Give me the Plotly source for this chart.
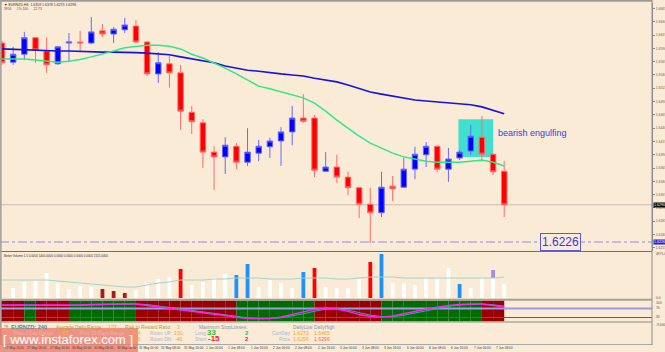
import plotly.graph_objects as go

# ---------------- data ----------------
symbol_title = "\u25bc EURNZD,H4  1.6359 1.6378 1.6273 1.6296"
bar_index = list(range(46))
time_labels = ["27 May 2016", "27 May 08:00", "27 May 16:00", "30 May 00:00", "30 May 08:00",
               "30 May 16:00", "31 May 00:00", "31 May 08:00", "31 May 16:00", "1 Jun 00:00",
               "1 Jun 08:00", "1 Jun 16:00", "2 Jun 00:00", "2 Jun 08:00", "2 Jun 16:00",
               "3 Jun 00:00", "3 Jun 08:00", "3 Jun 16:00", "6 Jun 00:00", "6 Jun 08:00",
               "6 Jun 16:00", "7 Jun 00:00", "7 Jun 08:00"]

opens = [1.6600, 1.6564, 1.6579, 1.6610, 1.6585, 1.6561, 1.6600, 1.6602, 1.6600, 1.6623,
         1.6617, 1.6625, 1.6632, 1.6602, 1.6542, 1.6561, 1.6544, 1.6470, 1.6450, 1.6395,
         1.6386, 1.6406, 1.6376, 1.6393, 1.6405, 1.6416, 1.6433, 1.6459, 1.6459, 1.6359,
         1.6367, 1.6348, 1.6328, 1.6297, 1.6281, 1.6331, 1.6329, 1.6363, 1.6390, 1.6406,
         1.6363, 1.6384, 1.6397, 1.6423, 1.6391, 1.6359]
highs = [1.6604, 1.6593, 1.6621, 1.6611, 1.6611, 1.6594, 1.6619, 1.6623, 1.6649, 1.6636,
         1.6630, 1.6647, 1.6643, 1.6604, 1.6583, 1.6576, 1.6559, 1.6482, 1.6457, 1.6406,
         1.6423, 1.6412, 1.6440, 1.6418, 1.6422, 1.6442, 1.6482, 1.6504, 1.6465, 1.6395,
         1.6390, 1.6358, 1.6329, 1.6328, 1.6358, 1.6350, 1.6384, 1.6405, 1.6414, 1.6408,
         1.6403, 1.6399, 1.6446, 1.6463, 1.6393, 1.6378]
lows = [1.6559, 1.6559, 1.6568, 1.6563, 1.6544, 1.6559, 1.6564, 1.6583, 1.6598, 1.6611,
        1.6600, 1.6619, 1.6600, 1.6538, 1.6525, 1.6516, 1.6437, 1.6429, 1.6365, 1.6324,
        1.6354, 1.6363, 1.6369, 1.6378, 1.6384, 1.6369, 1.6408, 1.6450, 1.6348, 1.6358,
        1.6337, 1.6314, 1.6271, 1.6224, 1.6273, 1.6303, 1.6328, 1.6344, 1.6367, 1.6358,
        1.6339, 1.6380, 1.6390, 1.6378, 1.6352, 1.6273]
closes = [1.6563, 1.6579, 1.6610, 1.6587, 1.6559, 1.6593, 1.6602, 1.6600, 1.6621, 1.6617,
          1.6626, 1.6634, 1.6602, 1.6542, 1.6563, 1.6544, 1.6472, 1.6452, 1.6395, 1.6386,
          1.6408, 1.6376, 1.6395, 1.6406, 1.6416, 1.6433, 1.6459, 1.6453, 1.6361, 1.6367,
          1.6348, 1.6328, 1.6297, 1.6281, 1.6329, 1.6326, 1.6363, 1.6391, 1.6406, 1.6363,
          1.6382, 1.6395, 1.6425, 1.6391, 1.6358, 1.6296]

ma_slow = [1.6589, 1.6588, 1.6587, 1.6587, 1.6586, 1.6585, 1.6585, 1.6584, 1.6583, 1.6583,
           1.6583, 1.6583, 1.6582, 1.6581, 1.6579, 1.6578, 1.6574, 1.6570, 1.6566, 1.6563,
           1.6557, 1.6553, 1.6549, 1.6547, 1.6544, 1.6542, 1.6540, 1.6538, 1.6534, 1.6531,
           1.6527, 1.6521, 1.6514, 1.6508, 1.6504, 1.6500, 1.6497, 1.6493, 1.6491, 1.6489,
           1.6487, 1.6485, 1.6484, 1.6480, 1.6474, 1.6467]
ma_fast = [1.6570, 1.6570, 1.6570, 1.6568, 1.6566, 1.6564, 1.6566, 1.6569, 1.6574, 1.6579,
           1.6585, 1.6591, 1.6594, 1.6596, 1.6596, 1.6594, 1.6589, 1.6579, 1.6572, 1.6563,
           1.6553, 1.6542, 1.6531, 1.6519, 1.6514, 1.6508, 1.6502, 1.6497, 1.6487, 1.6472,
           1.6455, 1.6440, 1.6425, 1.6412, 1.6403, 1.6393, 1.6386, 1.6382, 1.6378, 1.6376,
           1.6376, 1.6376, 1.6378, 1.6380, 1.6376, 1.6369]

support_level = 1.6226
pattern_first, pattern_last = 41, 43
pattern_top, pattern_bottom = 1.6457, 1.6386
pattern_name = "bearish engulfing"

volumes = [0, 1130, 1808, 1921, 2825, 1695, 1017, 1356, 1243, 1017,
           791, 565, 904, 1695, 2147, 2373, 3277, 1469, 1808, 2260,
           2712, 2599, 3842, 1243, 2034, 1695, 1130, 2938, 3390, 1243,
           1130, 1130, 2147, 4068, 4971, 1695, 1695, 1469, 2260, 2260,
           3390, 1582, 1130, 2260, 2260, 1582]
volume_kind = ["n"] * 46
for k in (9, 10, 11):
    volume_kind[k] = "low"
for k in (16, 28, 33):
    volume_kind[k] = "climax"
for k in (21, 22, 27, 34, 41):
    volume_kind[k] = "churn"
pending_volume = {44: 904}
volume_avg = [2034, 2034, 2034, 2034, 2034, 1921, 1808, 1695, 1582, 1469,
              1356, 1243, 1243, 1469, 1695, 1808, 2034, 2034, 2034, 2147,
              2147, 2260, 2260, 2260, 2147, 2147, 2147, 2260, 2260, 2260,
              2147, 2147, 2260, 2373, 2373, 2373, 2260, 2260, 2260, 2260,
              2260, 2260, 2260, 2260, 2260, 2373]

osc_main = [85.6, 85.6, 85.6, 85.6, 83.3, 83.3, 83.3, 85.6, 87.8, 90.0,
            90.0, 90.9, 90.0, 83.3, 76.7, 70.0, 63.3, 56.7, 50.0, 43.3,
            36.7, 30.0, 25.6, 24.2, 25.6, 32.2, 43.3, 54.4, 65.6, 72.2,
            67.8, 56.7, 43.3, 34.4, 31.3, 36.7, 45.6, 56.7, 67.8, 76.7,
            83.3, 87.8, 90.9, 90.0, 83.3, 75.8]
osc_signal = [85.0, 85.3, 85.5, 85.6, 84.8, 84.0, 83.5, 84.2, 85.8, 87.8,
              89.2, 90.2, 90.3, 87.5, 82.0, 75.5, 68.5, 61.5, 54.5, 47.5,
              40.5, 34.0, 28.8, 26.0, 25.2, 28.5, 36.0, 46.5, 57.5, 67.0,
              69.5, 63.0, 51.5, 40.5, 34.0, 33.5, 40.0, 50.0, 61.0, 71.5,
              79.5, 85.0, 89.0, 90.2, 87.0, 80.5]
osc_zone = list("RRRGRRRGGGGGGRRRRRRRRRGGGGGGGRRRRRRGGGGGGGGGRR")
osc_levels = [70, 30]

price_ticks = [round(1.6215 + 0.0025 * k, 4) for k in range(19)]

# ---------------- layout helpers ----------------
W, H = 665, 352
PW = 652
BG = "#FAEBD7"


def pxx(x):
    return x / PW


def pyy(y):
    return 1 - y / H


fig = go.Figure()

# candles
fig.add_trace(go.Candlestick(
    x=bar_index, open=opens, high=highs, low=lows, close=closes,
    increasing=dict(line=dict(color="#6868ff", width=1), fillcolor="#0000ff"),
    decreasing=dict(line=dict(color="#ff6c6c", width=1), fillcolor="#ff0000"),
    whiskerwidth=0, xaxis="x", yaxis="y", hoverinfo="skip", showlegend=False))

fig.add_trace(go.Scatter(x=bar_index, y=ma_slow, mode="lines",
                         line=dict(color="#1414dc", width=1.6), yaxis="y",
                         hoverinfo="skip", showlegend=False))
fig.add_trace(go.Scatter(x=bar_index, y=ma_fast, mode="lines",
                         line=dict(color="#2fe884", width=1.5), yaxis="y",
                         hoverinfo="skip", showlegend=False))

# volume
kind_color = {"n": "#ffffff", "low": "#b01818", "climax": "#ff0000", "churn": "#1e90ff"}
fig.add_trace(go.Bar(x=bar_index, y=volumes,
                     marker=dict(color=[kind_color[k] for k in volume_kind], line=dict(width=0)),
                     width=0.34, yaxis="y2", hoverinfo="skip", showlegend=False))
fig.add_trace(go.Bar(x=list(pending_volume.keys()), y=list(pending_volume.values()),
                     base=[volumes[k] for k in pending_volume],
                     marker=dict(color="#9f8fe0", line=dict(width=0)),
                     width=0.34, yaxis="y2", hoverinfo="skip", showlegend=False))
fig.add_trace(go.Scatter(x=bar_index, y=volume_avg, mode="lines",
                         line=dict(color="#9fd6c6", width=1), yaxis="y2",
                         hoverinfo="skip", showlegend=False))

# oscillator lines
fig.add_trace(go.Scatter(x=bar_index, y=osc_signal, mode="lines",
                         line=dict(color="#3aa6a0", width=1), yaxis="y3",
                         hoverinfo="skip", showlegend=False))
fig.add_trace(go.Scatter(x=bar_index, y=osc_main, mode="lines",
                         line=dict(color="#ff20ff", width=1.3), yaxis="y3",
                         hoverinfo="skip", showlegend=False))

shapes = []
# oscillator zones
for k, z in enumerate(osc_zone):
    shapes.append(dict(type="rect", xref="x", yref="y3 domain", x0=k - 1, x1=k, y0=0, y1=1,
                       fillcolor="#9a0000" if z == "R" else "#006c00", line=dict(width=0),
                       layer="below"))
lvl_col = ["#9c9ce6", "#4a4aff"]
for lv, c, w in zip(osc_levels, lvl_col, [2, 1]):
    shapes.append(dict(type="line", xref="paper", yref="y3", x0=0, x1=1, y0=lv, y1=lv,
                       line=dict(color=c, width=w), layer="below"))

# pattern box
shapes.append(dict(type="rect", xref="x", yref="y", x0=pattern_first - 0.1, x1=pattern_last + 1.0,
                   y0=pattern_bottom, y1=pattern_top, fillcolor="#40e0d0", line=dict(width=0),
                   layer="below"))
# current price line and support level
shapes.append(dict(type="line", xref="paper", yref="y", x0=0, x1=1, y0=closes[-1], y1=closes[-1],
                   line=dict(color="#c6bdb2", width=1), layer="below"))
shapes.append(dict(type="line", xref="paper", yref="y", x0=0, x1=1, y0=support_level, y1=support_level,
                   line=dict(color="#8c8ce6", width=1, dash="dashdot")))


# frame / separators
def hline(y, color, width):
    shapes.append(dict(type="line", xref="paper", yref="paper", x0=0, x1=1, y0=pyy(y), y1=pyy(y),
                       line=dict(color=color, width=width)))


hline(0.8, "#a09c98", 2)
hline(251.5, "#6e6e6e", 1.2)
hline(299.8, "#a8a098", 2)
hline(322, "#b0a89e", 1.5)
hline(344.5, "#a8a8a8", 1)
shapes.append(dict(type="line", xref="paper", yref="paper", x0=0.001, x1=0.001, y0=pyy(345), y1=1,
                   line=dict(color="#a8a4a0", width=2)))
shapes.append(dict(type="line", xref="paper", yref="paper", x0=1, x1=1, y0=pyy(345), y1=1,
                   line=dict(color="#8c8c8c", width=1)))
# watermark
shapes.append(dict(type="rect", xref="paper", yref="paper", x0=0, x1=pxx(138), y0=0, y1=pyy(328),
                   fillcolor="rgba(234,122,108,0.78)", line=dict(width=0)))

ann = []
FONT = "Liberation Sans, Arial, sans-serif"


def text(x, y, s, color="#333333", size=6, bold=False, anchor="left", **kw):
    ann.append(dict(xref="paper", yref="paper", x=pxx(x), y=pyy(y), text=("<b>%s</b>" % s) if bold else s,
                    showarrow=False, xanchor=anchor, yanchor="middle",
                    font=dict(family=FONT, size=size, color=color), **kw))


text(2, 4.5, symbol_title, "#303030", 3.5)
text(2, 9.5, "3956      1% 100      22.73", "#505050", 3.3)
text(2, 255.5, "Better Volume 1.5 0.0000 1400.0000 0.0000 0.0000 0.0000 0.0000 2155.0000", "#303030", 3.0)
text(2, 303, "(1.0,20, 21.00 34.14 51.04)", "#202020", 3.0)

# pattern label + level label
ann.append(dict(xref="x", yref="y", x=pattern_last + 1.3, y=(pattern_top + pattern_bottom) / 2 + 0.0010,
                text=pattern_name, showarrow=False, xanchor="left", yanchor="middle",
                font=dict(family=FONT, size=9, color="#3a3aee")))
ann.append(dict(xref="x", yref="y", x=50.0, y=support_level, text="1.6226", showarrow=False,
                xanchor="center", yanchor="middle", bgcolor=BG, bordercolor="#5a5ae0", borderwidth=1,
                borderpad=1, font=dict(family=FONT, size=12, color="#3838e0")))
# right-axis markers
ann.append(dict(xref="paper", yref="y", x=1.0, y=closes[-1], text="1.6296", showarrow=False,
                xanchor="left", yanchor="middle", bgcolor="#000000", borderpad=0, xshift=1,
                font=dict(family=FONT, size=3.6, color="#ffffff")))
ann.append(dict(xref="paper", yref="y", x=1.0, y=support_level, text="1.6226", showarrow=False,
                xanchor="left", yanchor="middle", bgcolor="#2020d8", borderpad=0, xshift=1,
                font=dict(family=FONT, size=3.6, color="#ffffff")))
text(654, 254, "4971.0", "#505050", 3.3)
text(654, 298, "0.0", "#505050", 3.3)
text(654, 302.5, "100", "#505050", 3.3)
text(654, 308, "70", "#505050", 3.3)
text(654, 317, "30", "#505050", 3.3)
text(654, 325, "-9.000", "#505050", 3.3)

# info panel
text(1.5, 326.5, "TR", "#707070", 3.2)
text(9, 327, "EURNZD: 240", "#3d8e9c", 5.6, True)
text(54, 327, "Average Daily Range:", "#b59c36", 4.8)
text(106, 327, "123", "#ffa11e", 5.2)
text(123, 327, "Risk to Reward Ratio:", "#b59c36", 4.8)
text(175, 327, "3", "#ffa11e", 5.2)
text(197, 327, "Maximum StopLosses:", "#8796ae", 4.8)
text(291, 327, "DailyLow", "#8796ae", 4.8)
text(312, 327, "DailyHigh", "#8796ae", 4.8)

text(12, 333, "Prev 1 Day Range", "#f0b0a8", 4.8)
text(60, 333, "83", "#ffb040", 5.2)
text(78, 333, "Prev 10 Days Range", "#f0b0a8", 4.8)
text(130, 333, "134", "#ffa11e", 5.2)
text(148, 333, "Room UP:", "#a6b6ce", 4.8)
text(172, 333, "100", "#ffa11e", 5.2)
text(193, 333, "Long", "#a6b6ce", 4.8)
text(205, 332, "33", "#2fbf2f", 8, True)
text(243, 333, "2", "#2fbf2f", 6, True)
text(270, 333, "CurrDay", "#a6b6ce", 4.8)
text(291, 333, "1.6273", "#ffa11e", 5.2)
text(312, 333, "1.6465", "#ffa11e", 5.2)

text(12, 339, "Prev 5 Days Range", "#f0b0a8", 4.8)
text(78, 339, "Prev 20 Days Range", "#f0b0a8", 4.8)
text(130, 339, "126", "#ffa11e", 5.2)
text(148, 339, "Room DN:", "#a6b6ce", 4.8)
text(173, 339, "-46", "#ffa11e", 5.2)
text(193, 339, "Short", "#a6b6ce", 4.8)
text(206, 338, "-15", "#ff2020", 8, True)
text(243, 339, "2", "#ff2020", 6, True)
text(277, 339, "Price", "#a6b6ce", 4.8)
text(291, 339, "1.6296", "#ffa11e", 5.2)
text(312, 339, "1.6296", "#ff6a3a", 5.2)

# watermark text
ann.append(dict(xref="paper", yref="paper", x=pxx(68), y=pyy(339.5),
                text="[ www.instaforex.com ]", showarrow=False,
                xanchor="center", yanchor="middle",
                font=dict(family="Liberation Sans Narrow, Liberation Sans, Arial, sans-serif",
                          size=13, color="#ffffff")))

# time labels every 2 bars
for j, lab in enumerate(time_labels):
    ann.append(dict(xref="x", yref="paper", x=2 * j, y=pyy(348), text=lab, showarrow=False,
                    xanchor="left", yanchor="middle", xshift=1,
                    font=dict(family=FONT, size=3.2, color="#404040")))

fig.update_layout(
    width=W, height=H, margin=dict(l=0, r=W - PW, t=0, b=0),
    paper_bgcolor=BG, plot_bgcolor=BG, hovermode=False, showlegend=False,
    barmode="overlay", shapes=shapes, annotations=ann,
    xaxis=dict(range=[-0.18, 58.24], visible=False, rangeslider=dict(visible=False), fixedrange=True),
    yaxis=dict(domain=[pyy(251), pyy(3)], range=[1.620908, 1.667532], side="right",
               showgrid=False, zeroline=False, showline=True, linecolor="#8c8c8c",
               ticks="outside", ticklen=2, tickcolor="#8c8c8c", tickvals=price_ticks,
               ticktext=["%.4f" % t for t in price_ticks],
               tickfont=dict(family=FONT, size=3.4, color="#606060")),
    yaxis2=dict(domain=[pyy(298), pyy(253)], range=[0, 5084], side="right", anchor="x",
                showgrid=False, zeroline=False, showticklabels=False),
    yaxis3=dict(domain=[pyy(321.5), pyy(300.5)], range=[12.2, 105.6], side="right", anchor="x",
                showgrid=False, zeroline=False, showticklabels=False),
)

fig.write_html("out.html")
